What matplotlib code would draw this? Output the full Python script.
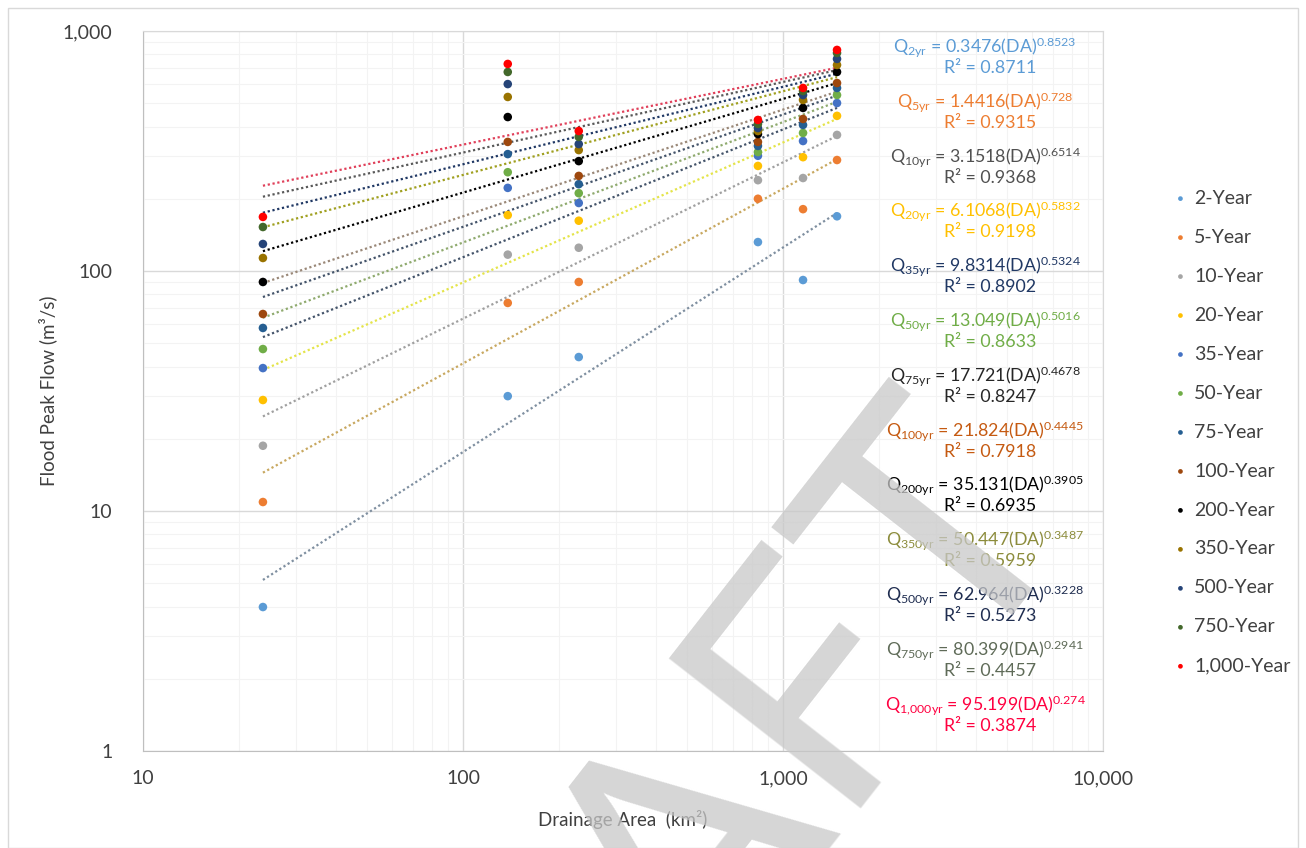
import numpy as np
import matplotlib
matplotlib.use("Agg")
import matplotlib.pyplot as plt
from matplotlib.ticker import FuncFormatter, LogLocator, NullFormatter

plt.rcParams["font.family"] = ["Lato", "DejaVu Sans"]
plt.rcParams["mathtext.default"] = "regular"

# drainage area of the gauged catchments (km2)
area = [23.7, 138, 230, 835, 1155, 1475]

periods = ["2-Year", "5-Year", "10-Year", "20-Year", "35-Year", "50-Year", "75-Year",
           "100-Year", "200-Year", "350-Year", "500-Year", "750-Year", "1,000-Year"]
sub_labels = ["2yr", "5yr", "10yr", "20yr", "35yr", "50yr", "75yr",
              "100yr", "200yr", "350yr", "500yr", "750yr", "1{,}000yr"]

# flood peak flow (m3/s), one row per return period, one value per catchment
q2 = [3.98, 30.1, 43.8, 132, 91.7, 169]
q5 = [10.9, 73.6, 90, 200, 181, 290]
q10 = [18.7, 117, 125, 239, 244, 369]
q20 = [29.0, 171, 162, 274, 298, 443]
q35 = [39.4, 222, 192, 302, 348, 501]
q50 = [47.3, 258, 211, 313, 376, 541]
q75 = [57.9, 307, 230, 332, 406, 579]
q100 = [66.2, 345, 249, 345, 430, 607]
q200 = [90, 438, 287, 372, 478, 675]
q350 = [113.3, 531, 319, 383, 516, 722]
q500 = [129.6, 601, 338, 394, 541, 765]
q750 = [152.5, 675, 362, 410, 562, 810]
q1000 = [168, 729, 383, 426, 579, 834]
flows = [q2, q5, q10, q20, q35, q50, q75, q100, q200, q350, q500, q750, q1000]

# power-law trendline coefficients Q = a * DA^b and R^2
coef_a = ["0.3476", "1.4416", "3.1518", "6.1068", "9.8314", "13.049", "17.721",
          "21.824", "35.131", "50.447", "62.964", "80.399", "95.199"]
coef_b = ["0.8523", "0.728", "0.6514", "0.5832", "0.5324", "0.5016", "0.4678",
          "0.4445", "0.3905", "0.3487", "0.3228", "0.2941", "0.274"]
r2 = ["0.8711", "0.9315", "0.9368", "0.9198", "0.8902", "0.8633", "0.8247",
      "0.7918", "0.6935", "0.5959", "0.5273", "0.4457", "0.3874"]

marker_colors = ["#5B9BD5", "#ED7D31", "#A5A5A5", "#FFC000", "#4472C4", "#70AD47", "#255E91",
                 "#9E480E", "#000000", "#997300", "#264478", "#43682B", "#FF0000"]
trend_colors = ["#7f8fa0", "#c8a860", "#a0a0a0", "#e4e44a", "#44546A", "#8faa6e", "#44546A",
                "#9a8878", "#000000", "#a0a020", "#203864", "#595959", "#e0405a"]
eq_colors = ["#5B9BD5", "#ED7D31", "#505050", "#FFC000", "#203864", "#70AD47", "#262626",
             "#C55A11", "#000000", "#8c8c3c", "#1F2D50", "#5f6b58", "#FF0040"]

fig = plt.figure(figsize=(13.06, 8.48), dpi=100)
ax = fig.add_axes([143 / 1306, 1 - 751 / 848, 960 / 1306, 720 / 848])
ax.set_xscale("log")
ax.set_yscale("log")
ax.set_xlim(10, 10000)
ax.set_ylim(1, 1000)

ax.grid(True, which="major", color="#d9d9d9", linewidth=1.0)
ax.grid(True, which="minor", color="#f3f3f3", linewidth=0.8)
ax.set_axisbelow(True)
for s in ax.spines.values():
    s.set_color("#d9d9d9")
ax.spines["left"].set_color("#bfbfbf")
ax.spines["bottom"].set_color("#bfbfbf")

ax.xaxis.set_major_locator(LogLocator(base=10))
ax.yaxis.set_major_locator(LogLocator(base=10))
ax.xaxis.set_minor_locator(LogLocator(base=10, subs=np.arange(2, 10)))
ax.yaxis.set_minor_locator(LogLocator(base=10, subs=np.arange(2, 10)))
fmt = FuncFormatter(lambda v, p: f"{v:,.0f}")
ax.xaxis.set_major_formatter(fmt)
ax.yaxis.set_major_formatter(fmt)
ax.xaxis.set_minor_formatter(NullFormatter())
ax.yaxis.set_minor_formatter(NullFormatter())
ax.tick_params(which="both", length=0, labelsize=14, colors="#404040")
ax.tick_params(axis="x", pad=14)
ax.tick_params(axis="y", pad=22)

xs = np.geomspace(min(area), max(area), 50)
for i, q in enumerate(flows):
    ax.plot(xs, float(coef_a[i]) * xs ** float(coef_b[i]), color=trend_colors[i],
            linestyle=(0, (1, 1.2)), linewidth=1.6, zorder=2)
for i, q in enumerate(flows):
    ax.scatter(area, q, s=38, color=marker_colors[i], label=periods[i], zorder=3,
               edgecolors="none")

ax.set_xlabel("Drainage Area  (km²)", fontsize=13.5, color="#404040", labelpad=16)
ax.set_ylabel("Flood Peak Flow (m³/s)", fontsize=13.5, color="#404040", labelpad=4)

# trendline equations
for i in range(len(flows)):
    y0 = 47 + i * 54.8
    fig.text(985 / 1306, 1 - y0 / 848,
             f"Q$_{{{sub_labels[i]}}}$ = {coef_a[i]}(DA)$^{{{coef_b[i]}}}$",
             ha="center", va="center", fontsize=12.8, color=eq_colors[i])
    fig.text(990 / 1306, 1 - (y0 + 21) / 848, f"R² = {r2[i]}",
             ha="center", va="center", fontsize=12.8, color=eq_colors[i])

leg = ax.legend(loc="upper left", bbox_to_anchor=(1161 / 1306, 1 - 180 / 848),
                bbox_transform=fig.transFigure, frameon=False, fontsize=14,
                labelspacing=1.13, handletextpad=0.2, handlelength=1.0,
                markerscale=0.55, borderpad=0)
for t in leg.get_texts():
    t.set_color("#404040")

# watermark
fig.text(660 / 1306, 1 - 870 / 848, "DRAFT", fontsize=245, rotation=52,
         color="#c8c8c8", alpha=0.75, ha="center", va="center", zorder=10)

# chart area border
fig.patches.append(plt.Rectangle((8 / 1306, 0), 1 - 16 / 1306, 1 - 8 / 848,
                                 transform=fig.transFigure, fill=False,
                                 edgecolor="#d9d9d9", linewidth=1.0))

fig.savefig("out.png", dpi=100)
